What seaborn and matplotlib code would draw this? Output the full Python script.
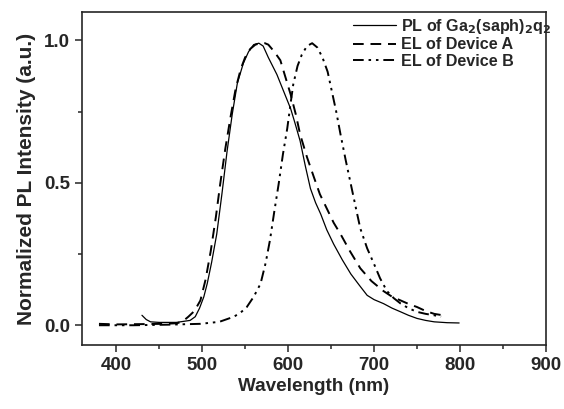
import pandas as pd
import matplotlib.pyplot as plt
import seaborn as sns
from matplotlib.ticker import MultipleLocator

# PL of Ga2(saph)2q2 - linha continua
pl_nm = [430, 435, 440, 450, 470, 486, 492, 497, 502, 506, 511, 517, 523, 529, 535, 541,
         548, 554, 560, 566, 571, 577, 582, 587, 595, 603, 608, 614, 620, 626, 632, 638,
         645, 653, 663, 673, 683, 692, 700, 711, 721, 731, 740, 750, 760, 770, 785, 799]
pl_int = [0.035, 0.02, 0.012, 0.01, 0.01, 0.017, 0.03, 0.06, 0.10, 0.147, 0.22, 0.32,
          0.46, 0.61, 0.74, 0.85, 0.92, 0.96, 0.985, 0.99, 0.98, 0.94, 0.91, 0.88, 0.82,
          0.76, 0.71, 0.647, 0.56, 0.48, 0.43, 0.39, 0.335, 0.285, 0.23, 0.18, 0.14, 0.105,
          0.09, 0.076, 0.06, 0.047, 0.035, 0.024, 0.017, 0.012, 0.009, 0.008]

# EL do dispositivo A - tracejado
a_nm = [380, 400, 430, 455, 471, 478, 484, 491, 498, 504, 510, 516, 521, 527, 533, 539,
        545, 550, 556, 562, 568, 573, 577, 584, 591, 597, 603, 609, 614, 622, 630, 637,
        645, 653, 661, 672, 684, 697, 711, 721, 731, 740, 750, 760, 770, 780]
a_int = [0.005, 0.003, 0.004, 0.005, 0.007, 0.015, 0.03, 0.05, 0.087, 0.16, 0.26, 0.38,
         0.495, 0.62, 0.73, 0.83, 0.90, 0.94, 0.97, 0.985, 0.99, 0.99, 0.985, 0.96, 0.93,
         0.87, 0.81, 0.74, 0.67, 0.59, 0.52, 0.46, 0.41, 0.36, 0.32, 0.26, 0.20, 0.155,
         0.12, 0.10, 0.087, 0.075, 0.064, 0.05, 0.04, 0.035]

# EL do dispositivo B - traco-ponto-ponto
b_nm = [380, 420, 460, 498, 520, 537, 545, 552, 560, 568, 574, 579, 584, 589, 594, 599,
        603, 606, 611, 616, 622, 628, 634, 640, 646, 651, 656, 661, 667, 673, 679, 684,
        692, 700, 707, 715, 723, 731, 740, 750, 760, 770, 778]
b_int = [0.0, 0.0, 0.002, 0.005, 0.012, 0.03, 0.045, 0.064, 0.10, 0.146, 0.22, 0.30,
         0.40, 0.495, 0.60, 0.69, 0.78, 0.845, 0.91, 0.95, 0.98, 0.99, 0.975, 0.94, 0.89,
         0.82, 0.75, 0.67, 0.58, 0.495, 0.41, 0.34, 0.27, 0.215, 0.165, 0.12, 0.095,
         0.076, 0.06, 0.047, 0.04, 0.035, 0.03]

sns.set_style("ticks")
plt.rcParams['font.family'] = ['Liberation Sans', 'DejaVu Sans']
plt.rcParams['font.weight'] = 'bold'
plt.rcParams['mathtext.default'] = 'bf'

fig = plt.figure(figsize=(5.64, 4.09), dpi=100)
ax = fig.add_axes([0.145, 0.156, 0.823, 0.815])

sns.lineplot(x=pl_nm, y=pl_int, ax=ax, color='black', linewidth=0.9,
             label=r'PL of Ga$_2$(saph)$_2$q$_2$')
sns.lineplot(x=a_nm, y=a_int, ax=ax, color='black', linewidth=1.4,
             linestyle=(0, (5.5, 3.5)), label='EL of Device A')
sns.lineplot(x=b_nm, y=b_int, ax=ax, color='black', linewidth=1.4,
             linestyle=(0, (5.5, 2.5, 1.3, 2.5, 1.3, 2.5)), label='EL of Device B')

ax.set_xlim(360, 900)
ax.set_ylim(-0.07, 1.1)
ax.xaxis.set_major_locator(MultipleLocator(100))
ax.xaxis.set_minor_locator(MultipleLocator(50))
ax.yaxis.set_major_locator(MultipleLocator(0.5))
ax.yaxis.set_minor_locator(MultipleLocator(0.25))
ax.tick_params(which='both', direction='out', width=1.1, labelsize=13.5)
ax.tick_params(which='major', length=5)
ax.tick_params(which='minor', length=3)
for sp in ax.spines.values():
    sp.set_linewidth(1.2)
    sp.set_visible(True)

ax.set_xlabel('Wavelength (nm)', fontsize=13.6, fontweight='bold', labelpad=3)
ax.set_ylabel('Normalized PL Intensity (a.u.)', fontsize=15, fontweight='bold', labelpad=6)

leg = ax.legend(loc='upper left', frameon=False, fontsize=11.6, handlelength=2.7,
                handletextpad=0.3, labelspacing=0.1, borderpad=0, borderaxespad=0,
                bbox_to_anchor=(0.584, 0.985))
for t in leg.get_texts():
    t.set_fontweight('bold')

plt.savefig('out.png', dpi=100)
